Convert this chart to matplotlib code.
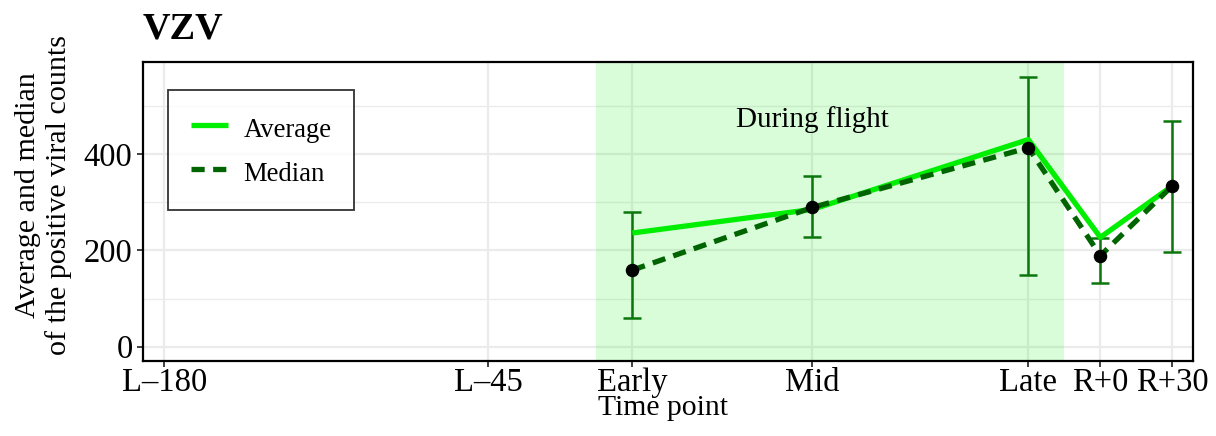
import matplotlib
matplotlib.use("Agg")
import matplotlib.pyplot as plt
from matplotlib import rcParams

rcParams['font.family'] = 'Liberation Serif'
rcParams['font.size'] = 23

# time points (days relative to launch) and labels
tick_pos = [-180, -45, 15, 90, 180, 210, 240]
tick_labels = ["L\u2013180", "L\u201345", "Early", "Mid", "Late", "R+0", "R+30"]

# measured time points
x_pts = [15, 90, 180, 210, 240]
average = [236, 285, 430, 227, 334]
median = [159, 289, 413, 189, 334]
err_low = [60, 227, 148, 132, 197]
err_high = [279, 354, 559, 226, 469]

flight_start, flight_end = 0, 195

fig = plt.figure(figsize=(12.16, 4.36), dpi=100)
ax = fig.add_axes([143 / 1216, 75 / 436, 1050 / 1216, 299 / 436])

# grid like theme_bw
for y in [0, 200, 400]:
    ax.axhline(y, color='#ebebeb', lw=1.6, zorder=0)
for y in [100, 300, 500]:
    ax.axhline(y, color='#ebebeb', lw=1.0, zorder=0)
for x in tick_pos:
    ax.axvline(x, color='#ebebeb', lw=1.6, zorder=0)

# flight shading
ax.axvspan(flight_start, flight_end, color='#00ee00', alpha=0.15, lw=0, zorder=1)
ax.text(90, 456, "During flight", ha='center', va='baseline', fontsize=21, zorder=5)

# error bars
yerr = [[m - lo for m, lo in zip(median, err_low)], [hi - m for m, hi in zip(median, err_high)]]
ax.errorbar(x_pts, median, yerr=yerr, fmt='none', ecolor='#0b760b', elinewidth=1.8,
            capsize=6.5, capthick=1.8, zorder=2)

ax.plot(x_pts, average, color='#00ee00', lw=3.8, solid_capstyle='butt', label='Average', zorder=3)
ax.plot(x_pts, median, color='#006400', lw=3.8, linestyle=(0, (2.5, 1.6)), label='Median', zorder=4)
ax.plot(x_pts, median, 'o', color='black', markersize=8.7, zorder=6)

ax.set_xlim(-188.9, 248.6)
ax.set_ylim(-29.7, 591)
ax.set_xticks(tick_pos)
ax.set_xticklabels(tick_labels)
ax.set_yticks([0, 200, 400])
ax.tick_params(axis='both', length=4.5, width=1.3, color='#333333', labelsize=23.5)
ax.tick_params(axis='x', pad=0)
ax.tick_params(axis='y', pad=3)

for s in ax.spines.values():
    s.set_linewidth(1.6)
    s.set_color('black')

ax.set_xlabel("Time point", fontsize=21.3, va='baseline')
ax.xaxis.set_label_coords(0.495, -0.18)
fig.text(43.5 / 1216, 1 - 195 / 436, "Average and median\nof the positive viral counts",
         rotation=90, ha='center', va='center', multialignment='center',
         fontsize=21.6, linespacing=1.2)

ax.text(0.0, 1.077, "VZV", transform=ax.transAxes, fontsize=27.5, fontweight='bold',
        ha='left', va='baseline')

leg = ax.legend(loc='upper left', bbox_to_anchor=(0.0238, 0.906), fontsize=19.2,
                frameon=True, fancybox=False, edgecolor='black', handlelength=1.39,
                handleheight=1.4, handletextpad=0.6, borderpad=0.85, labelspacing=0.48,
                borderaxespad=0)
leg.get_frame().set_linewidth(1.3)

fig.savefig("out.png", dpi=100)
